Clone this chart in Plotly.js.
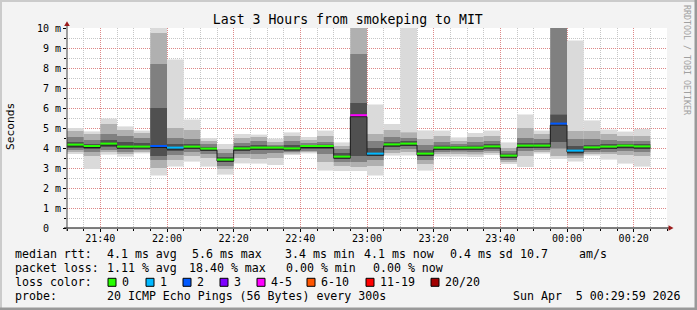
<!DOCTYPE html>
<html><head><meta charset="utf-8">
<script src="https://cdn.plot.ly/plotly-3.0.1.min.js"></script>
<style>html,body{margin:0;padding:0;background:#f3f3f3;overflow:hidden}#chart{width:697px;height:310px}</style>
</head><body><div id="chart"></div>
<script>
// ---- data ----
const stepLabels = ["21:30","21:35","21:40","21:45","21:50","21:55","22:00","22:05","22:10","22:15","22:20","22:25","22:30","22:35","22:40","22:45","22:50","22:55","23:00","23:05","23:10","23:15","23:20","23:25","23:30","23:35","23:40","23:45","23:50","23:55","00:00","00:05","00:10","00:15","00:20"];
const median = [4.17,4.10,4.22,4.07,4.07,4.10,4.02,4.07,3.97,3.42,3.98,4.02,4.02,3.98,4.10,4.10,3.57,5.64,3.72,4.18,4.22,3.72,4.02,4.02,4.02,4.08,3.62,4.12,4.12,5.22,3.87,4.03,4.07,4.12,4.08];
const lostPings = [0,0,0,0,0,2,1,0,0,0,0,0,0,0,0,0,0,4,1,0,0,0,0,0,0,0,0,0,0,2,1,0,0,0,0];
const hi1 = [5.0,4.83,5.47,5.08,4.87,10,8.42,5.42,4.5,4.2,4.7,4.67,4.47,4.78,4.55,4.87,4.28,10,6.17,5.2,10,4.88,4.87,4.53,4.75,4.87,4.28,5.67,4.87,10,9.37,5.38,4.92,4.82,4.95];
const hi2 = [4.85,4.7,5.2,4.9,4.75,9.75,5.0,4.9,4.35,3.95,4.5,4.55,4.3,4.6,4.4,4.6,4.1,10,4.7,4.9,4.78,4.45,4.6,4.35,4.55,4.6,4.0,5.0,4.7,10,4.85,4.85,4.7,4.6,4.6];
const hi3 = [4.55,4.4,4.7,4.6,4.5,8.2,4.5,4.45,4.2,3.75,4.25,4.35,4.15,4.35,4.25,4.3,3.95,8.7,4.35,4.55,4.5,4.15,4.3,4.2,4.3,4.35,3.85,4.5,4.45,10,4.45,4.45,4.4,4.35,4.35];
const hi4 = [4.3,4.2,4.4,4.3,4.25,6.0,4.2,4.2,4.05,3.55,4.1,4.15,4.08,4.15,4.15,4.17,3.75,6.25,4.0,4.3,4.35,3.9,4.12,4.1,4.12,4.2,3.72,4.25,4.25,5.67,4.1,4.15,4.2,4.2,4.2];
const lo4 = [4.0,3.95,4.05,3.95,3.98,3.6,3.85,3.95,3.85,3.3,3.85,3.9,3.9,3.88,3.95,3.95,3.45,3.6,3.6,4.05,4.1,3.6,3.9,3.92,3.92,3.98,3.5,4.0,4.02,4.3,3.72,3.9,3.95,3.98,3.95];
const lo3 = [3.9,3.8,3.9,3.8,3.9,3.4,3.65,3.8,3.7,3.1,3.7,3.7,3.75,3.8,3.85,3.7,3.3,3.3,3.4,3.9,3.95,3.4,3.8,3.82,3.8,3.85,3.4,3.85,3.9,3.98,3.62,3.8,3.8,3.85,3.8];
const lo2 = [3.8,3.6,3.8,3.7,3.8,3.0,3.4,3.6,3.5,2.95,3.5,3.45,3.5,3.72,3.8,3.3,3.1,3.05,3.1,3.75,3.8,3.2,3.7,3.7,3.68,3.75,3.3,3.6,3.8,3.6,3.5,3.7,3.7,3.65,3.6];
const lo1 = [3.7,2.95,3.67,3.57,3.73,2.62,3.08,3.32,3.07,2.67,3.23,3.22,3.15,3.65,3.73,2.87,2.85,2.85,2.62,3.62,3.62,2.87,3.57,3.57,3.55,3.65,3.2,3.05,3.72,3.45,3.32,3.62,3.42,3.22,3.07];
const axisStart = "21:30", axisEnd = "00:30";
const xTickLabels = ["21:40","22:00","22:20","22:40","23:00","23:20","23:40","00:00","00:20"];
const yTickVals = [0,1,2,3,4,5,6,7,8,9,10];
const yTickLabels = ["0\u00a0\u00a0","1 m","2 m","3 m","4 m","5 m","6 m","7 m","8 m","9 m","10 m"];
const lossLabels = ["0","1","2","3","4-5","6-10","11-19","20/20"];
const lossMaxPings = [0,1,2,3,5,10,19,20];
const lossColors = ["#26ff00","#00b8ff","#0059ff","#7e00ff","#ff00ff","#ff5500","#ff0000","#a10000"];
const rttStats = ["4.1 ms avg","5.6 ms max","3.4 ms min","4.1 ms now","0.4 ms sd","10.7","am/s"];
const lossStats = ["1.11 % avg","18.40 % max","0.00 % min","0.00 % now"];
const probeText = "20 ICMP Echo Pings (56 Bytes) every 300s";
const dateText = "Sun Apr  5 00:29:59 2026";
const titleText = "Last 3 Hours from smokeping to MIT";

// ---- helpers ----
const STEP = 5*60*1000;
function toMs(l){const [h,m]=l.split(':').map(Number);return Date.UTC(2026,3,h>=12?4:5,h,m);}
const starts = stepLabels.map(toMs);
const centers = starts.map(t=>t+STEP/2);
const t0 = toMs(axisStart), t1 = toMs(axisEnd);
const MONO = "DejaVu Sans Mono";
const L=67,R=667,T=28,B=228,W=R-L,H=B-T;
const PX = x=>(x-L)/W, PY = y=>(B-y)/H;

function lossColor(n){for(let i=0;i<lossMaxPings.length;i++){if(n<=lossMaxPings[i])return lossColors[i];}return lossColors[lossColors.length-1];}

const layers = [
  {lo:lo1,hi:hi1,c:"#dadada"},
  {lo:lo2,hi:hi2,c:"#b0b0b0"},
  {lo:lo3,hi:hi3,c:"#808080"},
  {lo:lo4,hi:hi4,c:"#505050"}
];
const traces = layers.map(Lr=>({
  type:"bar", x:centers, base:Lr.lo, y:Lr.hi.map((v,i)=>v-Lr.lo[i]), width:STEP,
  marker:{color:Lr.c,line:{width:0}}, hoverinfo:"skip", showlegend:false
}));
const lineOff = 0.075;
traces.push({type:"scatter",mode:"lines",x:starts.concat([starts[starts.length-1]+STEP]),
  y:median.map(v=>v-lineOff).concat([median[median.length-1]-lineOff]),
  line:{shape:"hv",color:"#1a1a1a",width:1},hoverinfo:"skip",showlegend:false});
const barPx = W*STEP/(t1-t0);
traces.push({type:"scatter",mode:"markers",x:centers,y:median,
  marker:{symbol:"line-ew",size:barPx/1.4,line:{width:2,color:lostPings.map(lossColor)}},
  hoverinfo:"skip",showlegend:false});

// ---- annotations & decorations ----
const ann=[];
function txt(t,x,y,opt){ann.push(Object.assign({text:t,xref:"paper",yref:"paper",x:PX(x),y:PY(y),xanchor:"left",yanchor:"middle",showarrow:false,borderpad:0,borderwidth:0,font:{family:MONO,size:11.6,color:"#000"}},opt||{}));}
const LY=[254.3,268.3,282.3,296.2];
txt("median rtt:",15.3,LY[0]);
[107.3,192.7,286,365,451,521,579.3].forEach((x,i)=>txt(rttStats[i],x-0.7,LY[0]));
txt("packet loss:",15.3,LY[1]);
[107.3,189.7,286.7,373.3].forEach((x,i)=>txt(lossStats[i],x-0.7,LY[1]));
txt("loss color:",15.3,LY[2]);
const boxX=[108,146,183,220,257,307,366,431];
const shapes=[];
lossLabels.forEach((l,i)=>{
  txt(l,boxX[i]+13.5,LY[2]);
  shapes.push({type:"rect",xref:"paper",yref:"paper",x0:PX(boxX[i]),x1:PX(boxX[i]+8),y0:PY(278.3),y1:PY(286.3),fillcolor:lossColors[i],line:{color:"#000",width:1}});
});
txt("probe:",15.3,LY[3]);
txt(probeText,106.6,LY[3]);
txt(dateText,512.6,LY[3]);
// y axis title
ann.push({text:"Seconds",xref:"paper",yref:"paper",x:PX(10.5),y:PY(126.5),xanchor:"center",yanchor:"middle",textangle:-90,showarrow:false,borderpad:0,borderwidth:0,font:{family:MONO,size:11.2,color:"#000"}});
// watermark
ann.push({text:"RRDTOOL / TOBI OETIKER",xref:"paper",yref:"paper",x:PX(687),y:PY(60),xanchor:"center",yanchor:"middle",textangle:90,showarrow:false,borderpad:0,borderwidth:0,font:{family:MONO,size:8.3,color:"#a0a0a0"}});
// frame shades
shapes.push({type:"rect",xref:"paper",yref:"paper",x0:PX(0),x1:PX(697),y0:PY(0),y1:PY(2),fillcolor:"#cbcbcb",line:{width:0},layer:"below"});
shapes.push({type:"rect",xref:"paper",yref:"paper",x0:PX(0),x1:PX(2),y0:PY(0),y1:PY(310),fillcolor:"#cbcbcb",line:{width:0},layer:"below"});
shapes.push({type:"rect",xref:"paper",yref:"paper",x0:PX(0),x1:PX(697),y0:PY(307.5),y1:PY(310),fillcolor:"#999999",line:{width:0},layer:"below"});
shapes.push({type:"rect",xref:"paper",yref:"paper",x0:PX(694.5),x1:PX(697),y0:PY(0),y1:PY(310),fillcolor:"#999999",line:{width:0},layer:"below"});
// axes lines & arrows
shapes.push({type:"line",xref:"paper",yref:"paper",x0:PX(64),x1:PX(669),y0:PY(228),y1:PY(228),line:{color:"#000",width:1}});
shapes.push({type:"line",xref:"paper",yref:"paper",x0:PX(67),x1:PX(67),y0:PY(231),y1:PY(24),line:{color:"#404040",width:1}});
function pth(pts){return "M"+pts.map(p=>PX(p[0])+","+PY(p[1])).join(" L")+" Z";}
shapes.push({type:"path",xref:"paper",yref:"paper",path:pth([[64.2,26],[69.8,26],[67,21.2]]),fillcolor:"#9b1c1c",line:{width:0}});
shapes.push({type:"path",xref:"paper",yref:"paper",path:pth([[668.5,225.2],[668.5,230.8],[673.5,228]]),fillcolor:"#9b1c1c",line:{width:0}});

const MAJ="rgba(226,120,120,0.8)", MIN="#c6c6c6", DASH="1px,1px";
const layout={
  width:697,height:310,margin:{l:L,r:697-R,t:T,b:310-B,pad:0},
  paper_bgcolor:"#f3f3f3",plot_bgcolor:"#ffffff",
  barmode:"overlay",showlegend:false,
  title:{text:titleText,x:347.8/697,xref:"container",xanchor:"center",y:1-19/310,yref:"container",yanchor:"middle",font:{family:MONO,size:13.2,color:"#000"}},
  xaxis:{type:"date",range:[t0,t1],tickmode:"array",tickvals:xTickLabels.map(toMs),ticktext:xTickLabels,
    ticks:"outside",ticklen:3,tickcolor:"#000",showline:false,zeroline:false,ticklabelstandoff:-2,
    showgrid:true,gridcolor:MAJ,griddash:DASH,gridwidth:1,
    minor:{tickmode:"linear",tick0:t0,dtick:STEP,showgrid:true,gridcolor:MIN,griddash:DASH,gridwidth:1,ticks:"outside",ticklen:2,tickcolor:"#000"},
    tickfont:{family:MONO,size:10,color:"#000"},fixedrange:true},
  yaxis:{range:[0,10],tickmode:"array",tickvals:yTickVals,ticktext:yTickLabels,
    ticks:"outside",ticklen:3,tickcolor:"#000",showline:false,zeroline:false,
    showgrid:true,gridcolor:MAJ,griddash:DASH,gridwidth:1,
    minor:{tickmode:"linear",tick0:0,dtick:0.5,showgrid:true,gridcolor:MIN,griddash:DASH,gridwidth:1,ticks:"outside",ticklen:2,tickcolor:"#000"},
    tickfont:{family:MONO,size:10,color:"#000"},fixedrange:true},
  annotations:ann,shapes:shapes
};
Plotly.newPlot("chart",traces,layout,{staticPlot:true,displayModeBar:false});
</script></body></html>
